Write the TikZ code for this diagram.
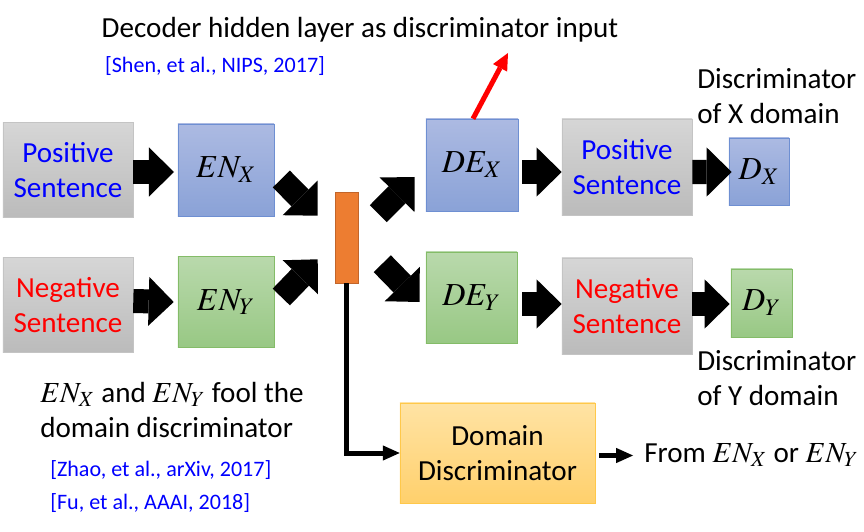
\documentclass[tikz,border=0pt]{standalone}
\usepackage{mathptmx}
\usepackage{fontspec}
\setmainfont{Carlito}
\usetikzlibrary{arrows.meta,calc}

\definecolor{graytop}{HTML}{D6D6D6}
\definecolor{graybot}{HTML}{BBBBBB}
\definecolor{grayline}{HTML}{C4C4C4}
\definecolor{bluetop}{HTML}{ACBAE2}
\definecolor{bluebot}{HTML}{8AA2D7}
\definecolor{blueline}{HTML}{6E8FD2}
\definecolor{greentop}{HTML}{B9D9AC}
\definecolor{greenbot}{HTML}{98C884}
\definecolor{greenline}{HTML}{84BC68}
\definecolor{domtop}{HTML}{FFE3A4}
\definecolor{dombot}{HTML}{FFD06C}
\definecolor{domline}{HTML}{FFC84A}
\definecolor{barfill}{HTML}{ED7D31}
\definecolor{barline}{HTML}{C2652A}
\definecolor{posblue}{HTML}{0000FF}
\definecolor{negred}{HTML}{FF0000}

\tikzset{
  sentbox/.style={draw=grayline, top color=graytop, bottom color=graybot,
    minimum width=3.25cm, minimum height=2.4cm, align=center, inner sep=0pt},
  bluebox/.style={draw=blueline, top color=bluetop, bottom color=bluebot, inner sep=0pt,
    font=\fontsize{22.8}{27}\selectfont},
  greenbox/.style={draw=greenline, top color=greentop, bottom color=greenbot, inner sep=0pt,
    font=\fontsize{22.8}{27}\selectfont},
  blockarrow/.style={line width=0.6cm,
    -{Triangle[length=0.625cm, width=1.225cm, line width=0pt]}},
  thinarrow/.style={line width=0.125cm,
    -{Triangle[length=0.42cm, width=0.38cm, line width=0pt]}},
  refnote/.style={posblue, font=\fontsize{15.7}{18}\selectfont},
}

\begin{document}
\begin{tikzpicture}[x=0.025cm, y=-0.025cm, font=\fontsize{20.7}{25}\selectfont]

  % Background
  \useasboundingbox (0,0) rectangle (864,532);

  % encoders side
  \node[sentbox, minimum height=2.375cm] (posl) at (68,170) {\textcolor{posblue}{Positive}\\\textcolor{posblue}{Sentence}};
  \node[sentbox, minimum height=2.375cm] (negl) at (68,305) {\textcolor{negred}{Negative}\\\textcolor{negred}{Sentence}};
  \node[bluebox, minimum width=2.4cm, minimum height=2.3cm] (enx) at (226,170) {$EN_X$};
  \node[greenbox, minimum width=2.4cm, minimum height=2.275cm] (eny) at (226,302) {$EN_Y$};

  % shared code
  \node[draw=barline, fill=barfill, minimum width=0.575cm, minimum height=2.275cm, inner sep=0pt] (bar) at (346.5,237.5) {};

  % decoders side
  \node[bluebox, minimum width=2.3cm, minimum height=2.3cm] (dex) at (472,165) {$DE_X$};
  \node[greenbox, minimum width=2.275cm, minimum height=2.275cm] (dey) at (471.5,297.5) {$DE_Y$};
  \node[sentbox] (posr) at (627,167) {\textcolor{posblue}{Positive}\\\textcolor{posblue}{Sentence}};
  \node[sentbox] (negr) at (627,306) {\textcolor{negred}{Negative}\\\textcolor{negred}{Sentence}};
  \node[bluebox, minimum width=1.5cm, minimum height=1.675cm] (dx) at (759,171.5) {$D_X$};
  \node[greenbox, minimum width=1.525cm, minimum height=1.7cm] (dy) at (761.5,303) {$D_Y$};

  % domain discriminator
  \node[draw=domline, top color=domtop, bottom color=dombot, minimum width=4.875cm, minimum height=2.5cm,
    align=center, inner sep=0pt] (dom) at (497.5,453) {Domain\\Discriminator};

  % texts
  \node (title) at (360,30) {Decoder hidden layer as discriminator input};
  \node[refnote] (shen) at (215,66) {[Shen, et al., NIPS, 2017]};
  \node[align=left, anchor=west, inner sep=0pt] (dxlab) at (697,96) {Discriminator\\of X domain};
  \node[align=left, anchor=west, inner sep=0pt] (dylab) at (697,378) {Discriminator\\of Y domain};
  \node[align=left, anchor=west, inner sep=0pt] (fool) at (40,410) {$EN_X$ and $EN_Y$ fool the\\domain discriminator};
  \node[refnote, anchor=west, inner sep=0pt] (zhao) at (50,470) {[Zhao, et al., arXiv, 2017]};
  \node[refnote, anchor=west, inner sep=0pt] (fu) at (50,503) {[Fu, et al., AAAI, 2018]};
  \node[anchor=west, inner sep=0pt] (from) at (644,455) {From $EN_X$ or $EN_Y$};
  \coordinate (redtip) at (508,53);

  % block arrows
  \draw[blockarrow] (posl.east |- 0,172) -- (174,172);
  \draw[blockarrow] (negl.east |- 0,301) -- ($(eny.west)+(-4,0)$);
  \draw[blockarrow] ($(enx.east)+(7,9)$) -- ($(bar.north west)+(-17,24)$);
  \draw[blockarrow] ($(eny.east)+(7,-5)$) -- ($(bar.south west)+(-17,-24)$);
  \draw[blockarrow] ($(bar.north east)+(20,22)$) -- ($(dex.west)+(-11,12)$);
  \draw[blockarrow] ($(bar.north east)+(24,72)$) -- ($(dey.west)+(-6,4.5)$);
  \draw[blockarrow] ($(dex.east)+(4,7)$) coordinate (t) -- (t -| posr.west);
  \draw[blockarrow] (posr.east |- 0,172) -- ($(dx.west)+(3,0.5)$);
  \draw[blockarrow] ($(dey.east)+(5,6.5)$) coordinate (t) -- (t -| negr.west);
  \draw[blockarrow] (negr.east |- 0,304) -- ($(dy.west)+(-1,1)$);

  % thin connectors
  \draw[red, line width=0.125cm, -{Triangle[length=0.42cm, width=0.4cm, line width=0pt]}] ($(dex.north)+(1,0)$) -- (redtip);
  \draw[thinarrow] (bar.south) |- (dom.west);
  \draw[thinarrow] ($(dom.east)+(4,2.5)$) -- ($(from.west)+(-11,0.5)$);

\end{tikzpicture}
\end{document}
